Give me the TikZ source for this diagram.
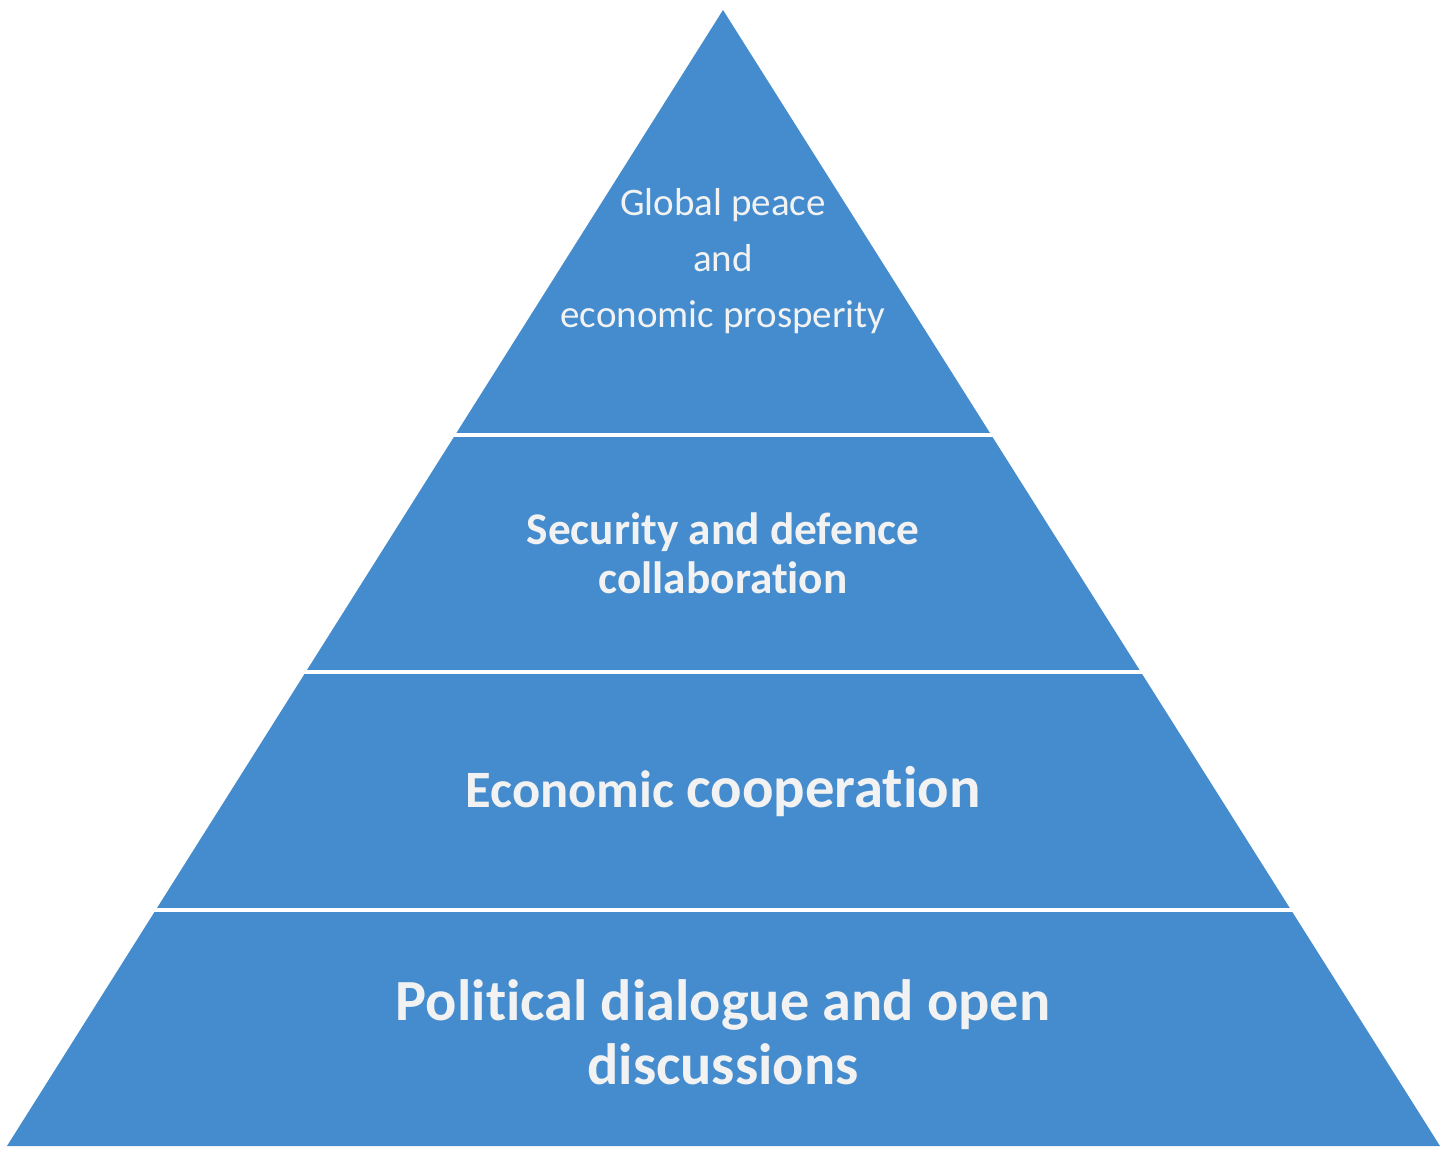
\documentclass[tikz,border=0pt]{standalone}
\usepackage{fontspec}
\setmainfont{Carlito}[RawFeature={-liga;-dlig;-clig}]
\definecolor{pyrblue}{HTML}{448CCE}
\definecolor{pyrtext}{HTML}{F2F2F2}
\tikzset{
  lbl/.style={anchor=base, inner sep=0pt, text=pyrtext},
  sep/.style={draw=white, line width=4pt}
}
\begin{document}
\begin{tikzpicture}[x=1pt, y=-1pt]
\useasboundingbox[fill=white] (0,0) rectangle (1450,1154);
\fill[pyrblue] (723,10) -- (1440,1146) -- (7,1146) -- cycle;
\draw[sep] (0,435) -- (1450,435);
\draw[sep] (0,672) -- (1450,672);
\draw[sep] (0,910) -- (1450,910);
\node[lbl, font=\fontsize{39}{40}\selectfont] (t1) at (723,215) {Global peace};
\node[lbl, font=\fontsize{39}{40}\selectfont] (t2) at (723,271) {and};
\node[lbl, font=\fontsize{39}{40}\selectfont] (t3) at (723,327) {economic prosperity};
\node[lbl, font=\fontsize{45.3}{46}\selectfont\bfseries] (s1) at (723,544) {Security and defence};
\node[lbl, font=\fontsize{45.3}{46}\selectfont\bfseries] (s2) at (723,593) {collaboration};
\node[lbl, font=\bfseries] (e1) at (723,807) {{\fontsize{52.5}{53}\selectfont Economic\ }{\fontsize{58.7}{60}\selectfont cooperation}};
\node[lbl, font=\fontsize{58.3}{60}\selectfont\bfseries] (p1) at (723,1020) {Political dialogue and open};
\node[lbl, font=\fontsize{58.3}{60}\selectfont\bfseries] (p2) at (723,1084) {discussions};
\end{tikzpicture}
\end{document}
